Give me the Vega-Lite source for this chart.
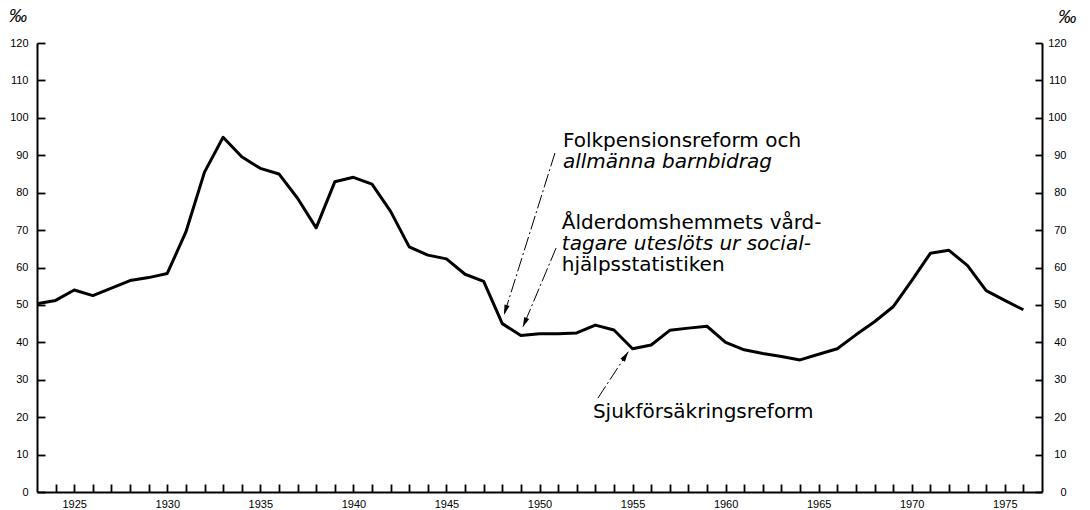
{
  "$schema": "https://vega.github.io/schema/vega-lite/v6.json",
  "width": 1005,
  "height": 449,
  "autosize": {"type": "none"},
  "padding": {"left": 37, "top": 43, "right": 48, "bottom": 18},
  "background": "white",
  "config": {
    "view": {"stroke": null},
    "font": "Liberation Sans",
    "axis": {
      "domainColor": "black",
      "tickColor": "black",
      "labelColor": "black",
      "titleColor": "black",
      "grid": false,
      "domainWidth": 2,
      "tickWidth": 1.8,
      "labelFont": "Liberation Sans",
      "labelFontSize": 11,
      "labelOverlap": false
    }
  },
  "datasets": {
    "series": [
      {"year": 1923, "value": 50.3}, {"year": 1924, "value": 51.2}, {"year": 1925, "value": 54},
      {"year": 1926, "value": 52.5}, {"year": 1927, "value": 54.5}, {"year": 1928, "value": 56.5},
      {"year": 1929, "value": 57.3}, {"year": 1930, "value": 58.4}, {"year": 1931, "value": 69.5},
      {"year": 1932, "value": 85.5}, {"year": 1933, "value": 94.8}, {"year": 1934, "value": 89.6},
      {"year": 1935, "value": 86.5}, {"year": 1936, "value": 85}, {"year": 1937, "value": 78.5},
      {"year": 1938, "value": 70.6}, {"year": 1939, "value": 82.9}, {"year": 1940, "value": 84.1},
      {"year": 1941, "value": 82.3}, {"year": 1942, "value": 75}, {"year": 1943, "value": 65.5},
      {"year": 1944, "value": 63.3}, {"year": 1945, "value": 62.3}, {"year": 1946, "value": 58.2},
      {"year": 1947, "value": 56.3}, {"year": 1948, "value": 45}, {"year": 1949, "value": 41.8},
      {"year": 1950, "value": 42.3}, {"year": 1951, "value": 42.3}, {"year": 1952, "value": 42.5},
      {"year": 1953, "value": 44.6}, {"year": 1954, "value": 43.3}, {"year": 1955, "value": 38.3},
      {"year": 1956, "value": 39.3}, {"year": 1957, "value": 43.2}, {"year": 1958, "value": 43.8},
      {"year": 1959, "value": 44.3}, {"year": 1960, "value": 40}, {"year": 1961, "value": 38},
      {"year": 1962, "value": 37}, {"year": 1963, "value": 36.2}, {"year": 1964, "value": 35.3},
      {"year": 1965, "value": 36.8}, {"year": 1966, "value": 38.3}, {"year": 1967, "value": 42},
      {"year": 1968, "value": 45.5}, {"year": 1969, "value": 49.5}, {"year": 1970, "value": 56.5},
      {"year": 1971, "value": 63.8}, {"year": 1972, "value": 64.6}, {"year": 1973, "value": 60.5},
      {"year": 1974, "value": 53.8}, {"year": 1975, "value": 51.2}, {"year": 1976, "value": 48.7}
    ],
    "arrows": [
      {"id": "a1", "year": 1950.83, "value": 90.6, "year2": 1948.09, "value2": 47.3},
      {"id": "a2", "year": 1950.89, "value": 65.2, "year2": 1949.1, "value2": 44.0},
      {"id": "a3", "year": 1953.14, "value": 25.1, "year2": 1954.77, "value2": 37.5}
    ],
    "notes": [
      {"text": "Folkpensionsreform och", "year": 1951.26, "value": 92.1},
      {"text": "Ålderdomshemmets vård-", "year": 1951.2, "value": 70.2},
      {"text": "hjälpsstatistiken", "year": 1951.2, "value": 59.1},
      {"text": "Sjukförsäkringsreform", "year": 1952.87, "value": 19.9}
    ],
    "notesItalic": [
      {"text": "allmänna barnbidrag", "year": 1951.26, "value": 86.7},
      {"text": "tagare uteslöts ur social-", "year": 1951.2, "value": 64.7}
    ]
  },
  "layer": [
    {
      "data": {"name": "series"},
      "mark": {"type": "line", "color": "black", "strokeWidth": 3, "strokeJoin": "round"},
      "encoding": {
        "x": {
          "field": "year", "type": "quantitative",
          "scale": {"domain": [1923, 1977], "nice": false, "zero": false},
          "axis": {
            "title": null,
            "values": [1924,1925,1926,1927,1928,1929,1930,1931,1932,1933,1934,1935,1936,1937,1938,1939,1940,1941,1942,1943,1944,1945,1946,1947,1948,1949,1950,1951,1952,1953,1954,1955,1956,1957,1958,1959,1960,1961,1962,1963,1964,1965,1966,1967,1968,1969,1970,1971,1972,1973,1974,1975,1976],
            "format": "d",
            "labelExpr": "datum.value % 5 === 0 ? datum.label : ''",
            "tickSize": -8,
            "labelPadding": 14,
            "labelFlush": false
          }
        },
        "y": {
          "field": "value", "type": "quantitative",
          "scale": {"domain": [0, 120], "nice": false},
          "axis": {
            "orient": "left",
            "values": [0,10,20,30,40,50,60,70,80,90,100,110,120],
            "tickSize": -8,
            "labelPadding": 17,
            "title": "‰",
            "titleAngle": 0,
            "titleX": -19.5,
            "titleY": -26.5,
            "titleAlign": "center",
            "titleBaseline": "middle",
            "titleFontSize": 18,
            "titleFontStyle": "italic",
            "titleFontWeight": "normal",
            "titleFont": "Liberation Sans"
          }
        }
      }
    },
    {
      "data": {"name": "arrows"},
      "mark": {"type": "rule", "color": "black", "strokeWidth": 1, "strokeDash": [14, 3, 2, 3]},
      "encoding": {
        "x": {"field": "year", "type": "quantitative", "axis": null},
        "y": {
          "field": "value", "type": "quantitative",
          "axis": {
            "orient": "right",
            "values": [0,10,20,30,40,50,60,70,80,90,100,110,120],
            "tickSize": -7,
            "labelPadding": 31,
            "labelAlign": "right",
            "title": "‰",
            "titleAngle": 0,
            "titleX": 24.7,
            "titleY": -25.5,
            "titleAlign": "center",
            "titleBaseline": "middle",
            "titleFontSize": 18,
            "titleFontStyle": "italic",
            "titleFontWeight": "normal",
            "titleFont": "Liberation Sans"
          }
        },
        "x2": {"field": "year2"},
        "y2": {"field": "value2"}
      }
    },
    {
      "data": {"name": "arrows"},
      "transform": [{"filter": "datum.id === 'a1'"}],
      "mark": {"type": "point", "shape": "M0,0L-0.26,1L0.26,1Z", "size": 420, "filled": true, "color": "black", "opacity": 1, "strokeWidth": 0, "angle": 197.5},
      "encoding": {
        "x": {"field": "year2", "type": "quantitative", "axis": null},
        "y": {"field": "value2", "type": "quantitative", "axis": null}
      }
    },
    {
      "data": {"name": "arrows"},
      "transform": [{"filter": "datum.id === 'a2'"}],
      "mark": {"type": "point", "shape": "M0,0L-0.26,1L0.26,1Z", "size": 420, "filled": true, "color": "black", "opacity": 1, "strokeWidth": 0, "angle": 202.8},
      "encoding": {
        "x": {"field": "year2", "type": "quantitative", "axis": null},
        "y": {"field": "value2", "type": "quantitative", "axis": null}
      }
    },
    {
      "data": {"name": "arrows"},
      "transform": [{"filter": "datum.id === 'a3'"}],
      "mark": {"type": "point", "shape": "M0,0L-0.26,1L0.26,1Z", "size": 420, "filled": true, "color": "black", "opacity": 1, "strokeWidth": 0, "angle": 33.2},
      "encoding": {
        "x": {"field": "year2", "type": "quantitative", "axis": null},
        "y": {"field": "value2", "type": "quantitative", "axis": null}
      }
    },
    {
      "data": {"name": "notes"},
      "mark": {"type": "text", "align": "left", "baseline": "alphabetic", "font": "DejaVu Sans", "fontSize": 20, "color": "black"},
      "encoding": {
        "x": {"field": "year", "type": "quantitative", "axis": null},
        "y": {"field": "value", "type": "quantitative", "axis": null},
        "text": {"field": "text"}
      }
    },
    {
      "data": {"name": "notesItalic"},
      "mark": {"type": "text", "align": "left", "baseline": "alphabetic", "font": "DejaVu Sans", "fontSize": 20, "fontStyle": "italic", "color": "black"},
      "encoding": {
        "x": {"field": "year", "type": "quantitative", "axis": null},
        "y": {"field": "value", "type": "quantitative", "axis": null},
        "text": {"field": "text"}
      }
    }
  ],
  "resolve": {"axis": {"x": "independent", "y": "independent"}}
}
